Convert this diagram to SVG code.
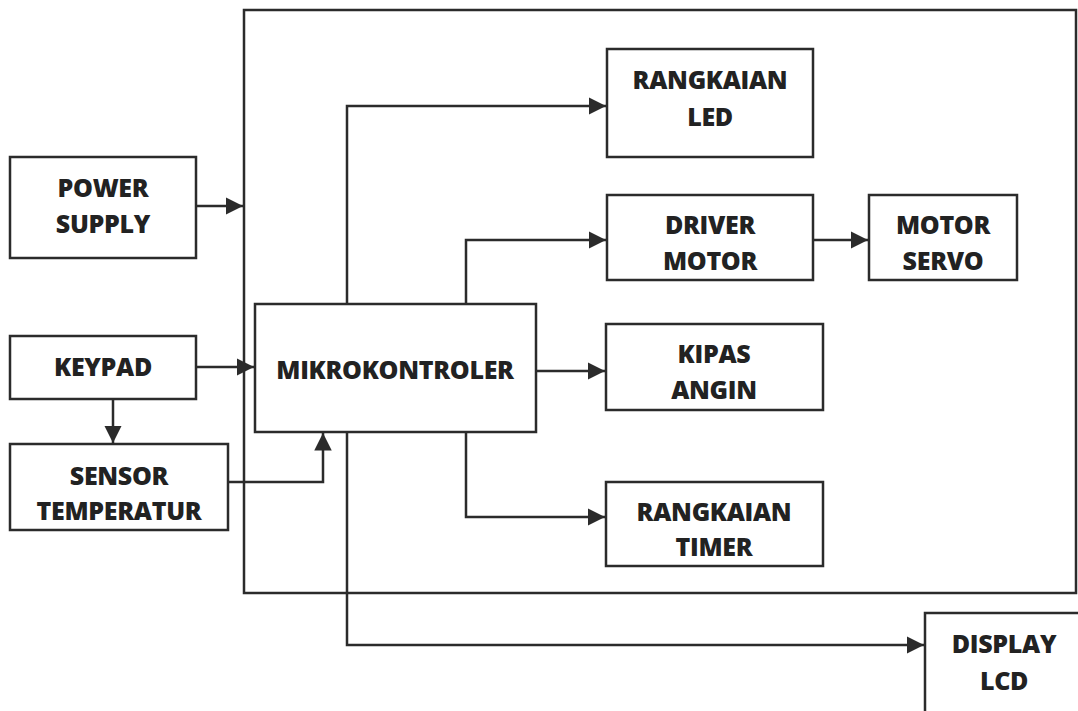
<svg xmlns="http://www.w3.org/2000/svg" width="1078" height="711" viewBox="0 0 1078 711">
<style>
.box{fill:#fff;stroke:#2b2b2b;stroke-width:2.5}
.ln{fill:none;stroke:#2b2b2b;stroke-width:2.5}
text{font-family:"Open Sans",Lato,"Liberation Sans",sans-serif;font-weight:800;font-size:25px;fill:#222;text-anchor:middle;letter-spacing:-0.3px}
</style>
<defs>
<marker id="ah" viewBox="0 0 10 10" refX="10" refY="5" markerWidth="7" markerHeight="7" markerUnits="strokeWidth" orient="auto">
<path d="M0,0 L10,5 L0,10 Z" fill="#2b2b2b"/>
</marker>
</defs>
<rect width="1078" height="711" fill="#fff"/>
<g id="outer"><rect class="box" x="244" y="10" width="832" height="583" fill="none"/></g>
<g id="power"><rect class="box" x="10" y="157" width="186" height="101"/><text x="103" y="197">POWER</text><text x="103" y="233">SUPPLY</text></g>
<g id="keypad"><rect class="box" x="10" y="336" width="186" height="63"/><text x="103" y="376">KEYPAD</text></g>
<g id="sensor"><rect class="box" x="10" y="444" width="218" height="86"/><text x="119" y="485">SENSOR</text><text x="119" y="520">TEMPERATUR</text></g>
<g id="mikro"><rect class="box" x="255" y="304" width="281" height="128"/><text x="395" y="379">MIKROKONTROLER</text></g>
<g id="led"><rect class="box" x="607" y="49" width="206" height="108"/><text x="710" y="89">RANGKAIAN</text><text x="710" y="126">LED</text></g>
<g id="driver"><rect class="box" x="607" y="195" width="206" height="85"/><text x="710" y="234">DRIVER</text><text x="710" y="270">MOTOR</text></g>
<g id="servo"><rect class="box" x="869" y="195" width="148" height="85"/><text x="943" y="234">MOTOR</text><text x="943" y="270">SERVO</text></g>
<g id="kipas"><rect class="box" x="606" y="324" width="217" height="86"/><text x="714" y="363">KIPAS</text><text x="714" y="399">ANGIN</text></g>
<g id="timer"><rect class="box" x="606" y="482" width="217" height="84"/><text x="714" y="521">RANGKAIAN</text><text x="714" y="556">TIMER</text></g>
<g id="lcd"><rect class="box" x="925" y="613" width="160" height="110"/><text x="1004" y="653">DISPLAY</text><text x="1004" y="690">LCD</text></g>
<g id="connectors">
<path class="ln" d="M196,206 H243" marker-end="url(#ah)"/>
<path class="ln" d="M196,367 H254" marker-end="url(#ah)"/>
<path class="ln" d="M113,399 V443" marker-end="url(#ah)"/>
<path class="ln" d="M228,482 H323 V433" marker-end="url(#ah)"/>
<path class="ln" d="M347,304 V106 H606" marker-end="url(#ah)"/>
<path class="ln" d="M466,304 V240 H606" marker-end="url(#ah)"/>
<path class="ln" d="M813,240 H868" marker-end="url(#ah)"/>
<path class="ln" d="M536,371 H605" marker-end="url(#ah)"/>
<path class="ln" d="M466,432 V517 H605" marker-end="url(#ah)"/>
<path class="ln" d="M347,432 V645 H924" marker-end="url(#ah)"/>
</g>
</svg>
